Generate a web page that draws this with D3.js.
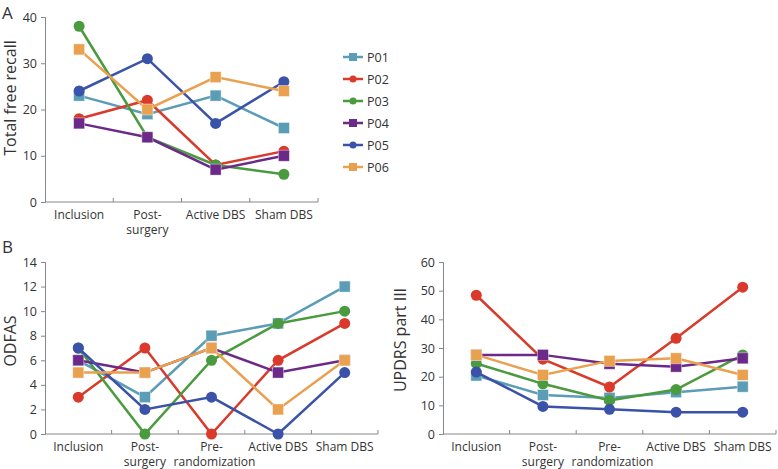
<!DOCTYPE html>
<html><head><meta charset="utf-8">
<script src="https://cdn.jsdelivr.net/npm/d3@7"></script>
<style>body{margin:0;background:#fff}svg{display:block}text{font-family:"Open Sans",sans-serif;fill:#333}</style>
</head><body><svg id="c" width="778" height="469"></svg>
<script>
const patients = ["P01","P02","P03","P04","P05","P06"];
const colors = ["#5b9cb6","#d93a2b","#4a9a3f","#6b2a87","#3a52a8","#e9a04f"];
const shapes = ["square","circle","circle","square","circle","square"];

const catsA = ["Inclusion","Post-\nsurgery","Active DBS","Sham DBS"];
const recall = [
  [23,19,23,16],
  [18,22,8,11],
  [38,14,8,6],
  [17,14,7,10],
  [24,31,17,26],
  [33,20,27,24]
];
const ticksA = [0,10,20,30,40];

const catsB = ["Inclusion","Post-\nsurgery","Pre-\nrandomization","Active DBS","Sham DBS"];
const odfas = [
  [6,3,8,9,12],
  [3,7,0,6,9],
  [7,0,6,9,10],
  [6,5,7,5,6],
  [7,2,3,0,5],
  [5,5,7,2,6]
];
const ticksOdfas = [0,2,4,6,8,10,12,14];

const updrs = [
  [20.4,13.6,12.6,14.6,16.5],
  [48.4,26.1,16.4,33.4,51.2],
  [24.6,17.5,11.7,15.5,27.6],
  [27.6,27.6,24.5,23.5,26.4],
  [21.6,9.6,8.6,7.6,7.6],
  [27.6,20.6,25.5,26.4,20.6]
];
const ticksUpdrs = [0,10,20,30,40,50,60];

const svg = d3.select("#c");

function panel(opts){
  const {cats, data, ticks, x0, x1, yTop, yBot, yMax, ylabel, labelX, labelY} = opts;
  const g = svg.append("g");
  const x = d3.scaleBand().domain(cats).range([x0,x1]);
  const y = d3.scaleLinear().domain([0,yMax]).range([yBot,yTop]);
  const ya = d3.axisLeft(y).tickValues(ticks).tickSize(4).tickPadding(4);
  const yg = g.append("g").attr("transform",`translate(${x0},0)`).call(ya);
  yg.select(".domain").attr("stroke","#888");
  yg.selectAll(".tick line").attr("stroke","#888");
  yg.selectAll(".tick text").style("font-size","12.5px").attr("fill","#333").style("font-family","'Open Sans',sans-serif");
  const xg = g.append("g").attr("transform",`translate(0,${yBot})`);
  xg.append("line").attr("x1",x0).attr("x2",x1).attr("stroke","#888");
  const bounds = cats.map(c=>x(c)).concat([x1]).slice(1);
  xg.selectAll("line.t").data(bounds).enter().append("line").attr("class","t")
    .attr("x1",d=>d).attr("x2",d=>d).attr("y1",0).attr("y2",-4).attr("stroke","#888");
  cats.forEach(c=>{
    const lines = c.split("\n");
    const t = xg.append("text").attr("x",x(c)+x.bandwidth()/2).attr("y",17)
      .attr("text-anchor","middle").style("font-size","12px");
    lines.forEach((l,i)=>t.append("tspan").attr("x",x(c)+x.bandwidth()/2 + (l==="randomization"?3:0)).attr("dy",i?15:0).text(l));
  });
  g.append("text").attr("transform",`translate(${labelX},${labelY}) rotate(-90)`)
    .attr("text-anchor","middle").style("font-size","16px").text(ylabel);
  const line = d3.line().x((d,i)=>x(cats[i])+x.bandwidth()/2).y(d=>y(d));
  data.forEach((s,k)=>{
    const sg = g.append("g");
    sg.append("path").attr("d",line(s)).attr("fill","none").attr("stroke",colors[k]).attr("stroke-width",2.5);
    s.forEach((v,i)=>{
      const cx = x(cats[i])+x.bandwidth()/2, cy = y(v);
      if(shapes[k]==="circle") sg.append("circle").attr("cx",cx).attr("cy",cy).attr("r",5.5).attr("fill",colors[k]);
      else sg.append("rect").attr("x",cx-5.5).attr("y",cy-5.5).attr("width",11).attr("height",11).attr("fill",colors[k]).attr("stroke","#fff").attr("stroke-opacity",0.5).attr("stroke-width",0.8);
    });
  });
}

panel({cats:catsA,data:recall,ticks:ticksA,x0:45,x1:318,yTop:17,yBot:202,yMax:40,ylabel:"Total free recall",labelX:16,labelY:98});
panel({cats:catsB,data:odfas,ticks:ticksOdfas,x0:45,x1:378,yTop:262,yBot:434,yMax:14,ylabel:"ODFAS",labelX:16,labelY:341});
panel({cats:catsB,data:updrs,ticks:ticksUpdrs,x0:443,x1:776,yTop:262,yBot:434,yMax:60,ylabel:"UPDRS part III",labelX:406,labelY:340});

svg.append("text").attr("x",2).attr("y",19).style("font-size","17px").text("A");
svg.append("text").attr("x",2).attr("y",253).style("font-size","17px").text("B");

const lg = svg.append("g");
patients.forEach((p,k)=>{
  const yy = 57 + k*22;
  lg.append("line").attr("x1",343).attr("x2",363).attr("y1",yy).attr("y2",yy).attr("stroke",colors[k]).attr("stroke-width",2.5);
  if(shapes[k]==="circle") lg.append("circle").attr("cx",353).attr("cy",yy).attr("r",3.5).attr("fill",colors[k]);
  else lg.append("rect").attr("x",349).attr("y",yy-4).attr("width",8).attr("height",8).attr("fill",colors[k]);
  lg.append("text").attr("x",367).attr("y",yy+4.5).style("font-size","12.5px").text(p);
});
</script></body></html>
